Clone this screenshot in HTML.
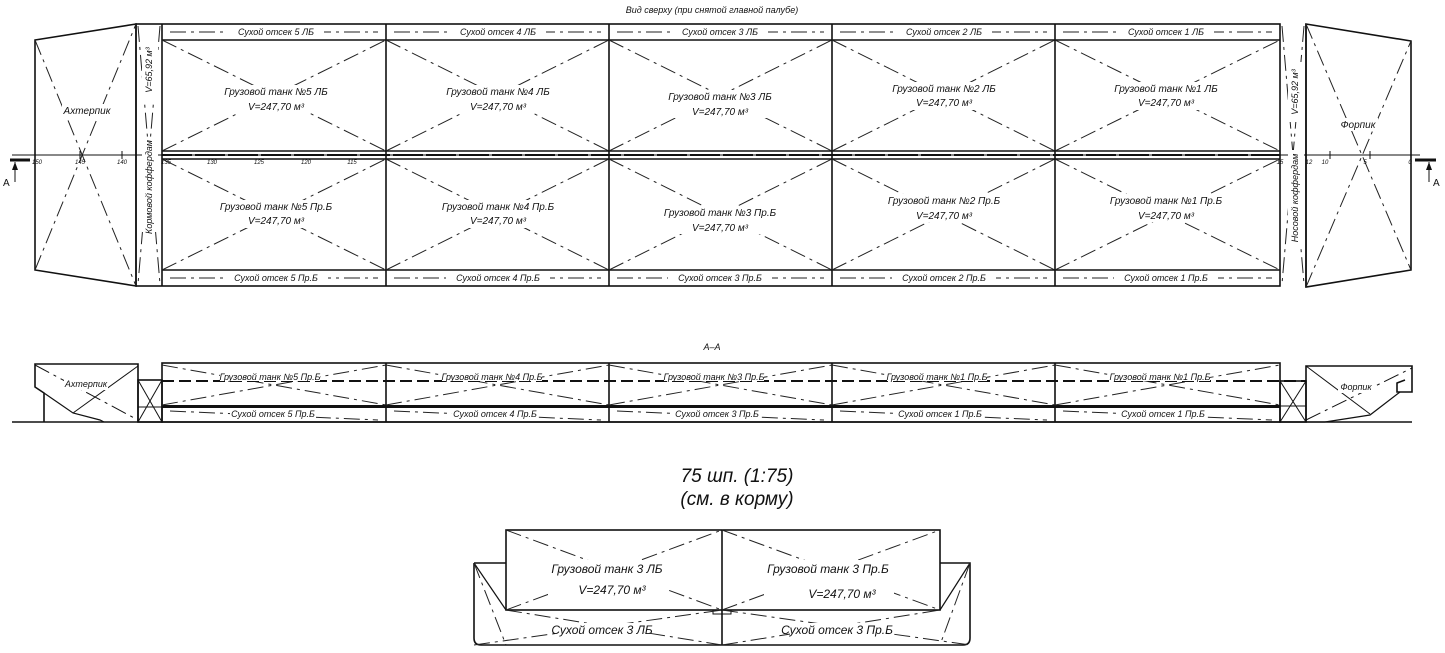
<!DOCTYPE html>
<html><head><meta charset="utf-8"><style>
html,body{margin:0;padding:0;background:#fff;}
svg{display:block}
text{font-family:"Liberation Sans","DejaVu Sans",sans-serif;font-style:italic;fill:#111;}
.t{font-size:10px}
.s{font-size:9px}
.k{stroke:#111;fill:none}
.d{stroke:#222;stroke-width:1;fill:none;stroke-dasharray:16 5 3 5}
.w{fill:#fff}
</style></head><body>
<svg width="1445" height="653" viewBox="0 0 1445 653" xmlns="http://www.w3.org/2000/svg">
<rect width="1445" height="653" fill="#fff"/>
<text x="712" y="13" class="s" text-anchor="middle">Вид сверху (при снятой главной палубе)</text>

<!-- plan view -->
<polygon class="k" stroke-width="1.6" points="35,40 136,24 136,286 35,270"/>
<rect class="k" stroke-width="1.6" x="136" y="24" width="1144" height="262"/>
<polygon class="k" stroke-width="1.6" points="1306,24 1411,41 1411,270 1306,287"/>
<line class="k" stroke-width="1.6" x1="1306" y1="24" x2="1306" y2="287"/>
<g class="k" stroke-width="1.6">
<line x1="162" y1="24" x2="162" y2="286"/><line x1="386" y1="24" x2="386" y2="286"/>
<line x1="609" y1="24" x2="609" y2="286"/><line x1="832" y1="24" x2="832" y2="286"/>
<line x1="1055" y1="24" x2="1055" y2="286"/>
<line x1="162" y1="40" x2="1280" y2="40"/><line x1="162" y1="270" x2="1280" y2="270"/>
<line x1="162" y1="151" x2="1280" y2="151"/><line x1="162" y1="159" x2="1280" y2="159"/>
</g>
<!-- diagonals -->
<g class="d">
<line x1="35" y1="40" x2="136" y2="286"/><line x1="35" y1="270" x2="136" y2="24"/>
<line x1="1306" y1="24" x2="1411" y2="270"/><line x1="1306" y1="287" x2="1411" y2="41"/>
<line x1="138" y1="26" x2="160" y2="284"/><line x1="160" y1="26" x2="138" y2="284"/>
<line x1="1282" y1="26" x2="1304" y2="284"/><line x1="1304" y1="26" x2="1282" y2="284"/>
<line x1="162" y1="40" x2="386" y2="151"/><line x1="162" y1="151" x2="386" y2="40"/>
<line x1="386" y1="40" x2="609" y2="151"/><line x1="386" y1="151" x2="609" y2="40"/>
<line x1="609" y1="40" x2="832" y2="151"/><line x1="609" y1="151" x2="832" y2="40"/>
<line x1="832" y1="40" x2="1055" y2="151"/><line x1="832" y1="151" x2="1055" y2="40"/>
<line x1="1055" y1="40" x2="1280" y2="151"/><line x1="1055" y1="151" x2="1280" y2="40"/>
<line x1="162" y1="159" x2="386" y2="270"/><line x1="162" y1="270" x2="386" y2="159"/>
<line x1="386" y1="159" x2="609" y2="270"/><line x1="386" y1="270" x2="609" y2="159"/>
<line x1="609" y1="159" x2="832" y2="270"/><line x1="609" y1="270" x2="832" y2="159"/>
<line x1="832" y1="159" x2="1055" y2="270"/><line x1="832" y1="270" x2="1055" y2="159"/>
<line x1="1055" y1="159" x2="1280" y2="270"/><line x1="1055" y1="270" x2="1280" y2="159"/>
<line x1="170" y1="32" x2="378" y2="32"/><line x1="394" y1="32" x2="601" y2="32"/><line x1="617" y1="32" x2="824" y2="32"/><line x1="840" y1="32" x2="1047" y2="32"/><line x1="1063" y1="32" x2="1272" y2="32"/>
<line x1="170" y1="278" x2="378" y2="278"/><line x1="394" y1="278" x2="601" y2="278"/><line x1="617" y1="278" x2="824" y2="278"/><line x1="840" y1="278" x2="1047" y2="278"/><line x1="1063" y1="278" x2="1272" y2="278"/>
</g>
<line x1="12" y1="155" x2="1420" y2="155" stroke="#111" stroke-width="1"/>
<line x1="162" y1="155" x2="1280" y2="155" stroke="#111" stroke-width="2" stroke-dasharray="30 3"/>
<g stroke="#111" stroke-width="1">
<line x1="35" y1="151" x2="35" y2="159"/><line x1="80" y1="151" x2="80" y2="159"/><line x1="122" y1="151" x2="122" y2="159"/>
<line x1="1330" y1="151" x2="1330" y2="159"/><line x1="1370" y1="151" x2="1370" y2="159"/><line x1="1411" y1="151" x2="1411" y2="159"/>
</g>
<!-- A arrows -->
<line x1="10" y1="160" x2="30" y2="160" stroke="#111" stroke-width="3"/>
<line x1="15" y1="162" x2="15" y2="182" stroke="#111"/><polygon points="12,170 15,162 18,170" fill="#111"/>
<text x="3" y="186" font-size="10" style="font-style:normal">A</text>
<line x1="1415" y1="160" x2="1436" y2="160" stroke="#111" stroke-width="3"/>
<line x1="1429" y1="162" x2="1429" y2="182" stroke="#111"/><polygon points="1426,170 1429,162 1432,170" fill="#111"/>
<text x="1433" y="186" font-size="10" style="font-style:normal">A</text>

<!-- label backgrounds -->
<g class="w">
<rect x="222" y="85" width="108" height="28"/><rect x="444" y="85" width="108" height="28"/><rect x="666" y="90" width="108" height="28"/><rect x="890" y="82" width="108" height="28"/><rect x="1112" y="82" width="108" height="28"/>
<rect x="218" y="200" width="116" height="28"/><rect x="440" y="200" width="116" height="28"/><rect x="662" y="206" width="116" height="28"/><rect x="886" y="194" width="116" height="28"/><rect x="1108" y="194" width="116" height="28"/>
<rect x="62" y="104" width="50" height="13"/><rect x="1338" y="118" width="40" height="13"/>
</g>
<g class="s" text-anchor="middle">
<rect x="228" y="26" width="96" height="12" fill="#fff"/><text x="276" y="35">Сухой отсек 5 ЛБ</text>
<rect x="450" y="26" width="96" height="12" fill="#fff"/><text x="498" y="35">Сухой отсек 4 ЛБ</text>
<rect x="672" y="26" width="96" height="12" fill="#fff"/><text x="720" y="35">Сухой отсек 3 ЛБ</text>
<rect x="896" y="26" width="96" height="12" fill="#fff"/><text x="944" y="35">Сухой отсек 2 ЛБ</text>
<rect x="1118" y="26" width="96" height="12" fill="#fff"/><text x="1166" y="35">Сухой отсек 1 ЛБ</text>
<rect x="224" y="272" width="104" height="12" fill="#fff"/><text x="276" y="281">Сухой отсек 5 Пр.Б</text>
<rect x="446" y="272" width="104" height="12" fill="#fff"/><text x="498" y="281">Сухой отсек 4 Пр.Б</text>
<rect x="668" y="272" width="104" height="12" fill="#fff"/><text x="720" y="281">Сухой отсек 3 Пр.Б</text>
<rect x="892" y="272" width="104" height="12" fill="#fff"/><text x="944" y="281">Сухой отсек 2 Пр.Б</text>
<rect x="1114" y="272" width="104" height="12" fill="#fff"/><text x="1166" y="281">Сухой отсек 1 Пр.Б</text>
</g>
<g class="t" text-anchor="middle">
<text x="276" y="95">Грузовой танк №5 ЛБ</text><text x="276" y="110">V=247,70 м³</text>
<text x="498" y="95">Грузовой танк №4 ЛБ</text><text x="498" y="110">V=247,70 м³</text>
<text x="720" y="100">Грузовой танк №3 ЛБ</text><text x="720" y="115">V=247,70 м³</text>
<text x="944" y="92">Грузовой танк №2 ЛБ</text><text x="944" y="106">V=247,70 м³</text>
<text x="1166" y="92">Грузовой танк №1 ЛБ</text><text x="1166" y="106">V=247,70 м³</text>
<text x="276" y="210">Грузовой танк №5 Пр.Б</text><text x="276" y="224">V=247,70 м³</text>
<text x="498" y="210">Грузовой танк №4 Пр.Б</text><text x="498" y="224">V=247,70 м³</text>
<text x="720" y="216">Грузовой танк №3 Пр.Б</text><text x="720" y="231">V=247,70 м³</text>
<text x="944" y="204">Грузовой танк №2 Пр.Б</text><text x="944" y="219">V=247,70 м³</text>
<text x="1166" y="204">Грузовой танк №1 Пр.Б</text><text x="1166" y="219">V=247,70 м³</text>
<text x="87" y="114">Ахтерпик</text>
<text x="1358" y="128">Форпик</text>
</g>
<g class="w"><rect x="142" y="142" width="16" height="90"/><rect x="142" y="40" width="16" height="60"/><rect x="1288" y="150" width="16" height="96"/><rect x="1288" y="62" width="16" height="60"/></g>
<g class="s" text-anchor="middle">
<text transform="translate(152,187) rotate(-90)">Кормовой коффердам</text>
<text transform="translate(152,70) rotate(-90)">V=65,92 м³</text>
<text transform="translate(1298,198) rotate(-90)">Носовой коффердам</text>
<text transform="translate(1298,92) rotate(-90)">V=65,92 м³</text>
</g>
<g font-size="6" text-anchor="middle">
<text x="37" y="164">150</text><text x="80" y="164">145</text><text x="122" y="164">140</text><text x="166" y="164">135</text>
<text x="212" y="164">130</text><text x="259" y="164">125</text><text x="306" y="164">120</text><text x="352" y="164">115</text>
<text x="1280" y="164">15</text><text x="1309" y="164">12</text><text x="1325" y="164">10</text><text x="1365" y="164">5</text><text x="1410" y="164">0</text>
</g>

<!-- section A-A -->
<text x="712" y="350" class="s" text-anchor="middle">А–А</text>
<polyline class="k" stroke-width="1.6" points="44,422 44,393 35,387 35,364 138,364 138,422"/>
<polyline class="k" stroke-width="1.2" points="44,393 73,413 100,420 104,422"/>
<rect class="k" stroke-width="1.6" x="138" y="380" width="24" height="42"/>
<line class="k" x1="138" y1="407" x2="162" y2="407"/>
<line class="k" x1="138" y1="380" x2="162" y2="422"/><line class="k" x1="162" y1="380" x2="138" y2="422"/>
<rect class="k" stroke-width="1.6" x="162" y="363" width="1118" height="59"/>
<g class="k" stroke-width="1.6">
<line x1="386" y1="363" x2="386" y2="422"/><line x1="609" y1="363" x2="609" y2="422"/><line x1="832" y1="363" x2="832" y2="422"/><line x1="1055" y1="363" x2="1055" y2="422"/>
</g>
<line x1="162" y1="406.5" x2="1280" y2="406.5" stroke="#111" stroke-width="3"/>
<g class="d">
<line x1="162" y1="365" x2="386" y2="405"/><line x1="162" y1="405" x2="386" y2="365"/>
<line x1="386" y1="365" x2="609" y2="405"/><line x1="386" y1="405" x2="609" y2="365"/>
<line x1="609" y1="365" x2="832" y2="405"/><line x1="609" y1="405" x2="832" y2="365"/>
<line x1="832" y1="365" x2="1055" y2="405"/><line x1="832" y1="405" x2="1055" y2="365"/>
<line x1="1055" y1="365" x2="1280" y2="405"/><line x1="1055" y1="405" x2="1280" y2="365"/>
<line x1="170" y1="411" x2="378" y2="420"/><line x1="394" y1="411" x2="601" y2="420"/><line x1="617" y1="411" x2="824" y2="420"/><line x1="840" y1="411" x2="1047" y2="420"/><line x1="1063" y1="411" x2="1272" y2="420"/>
</g>
<line x1="162" y1="381" x2="1306" y2="381" stroke="#111" stroke-width="2" stroke-dasharray="12 5"/>
<rect class="k" stroke-width="1.6" x="1280" y="381" width="26" height="41"/>
<line class="k" x1="1280" y1="406" x2="1306" y2="406"/>
<line class="k" x1="1280" y1="381" x2="1306" y2="422"/><line class="k" x1="1306" y1="381" x2="1280" y2="422"/>
<polyline class="k" stroke-width="1.6" points="1306,422 1306,366 1412,366 1412,392 1397,392 1397,383 1405,380"/>
<polyline class="k" stroke-width="1.2" points="1306,422 1325,422 1370,415 1400,392"/>
<line class="k" x1="1306" y1="366" x2="1370" y2="414"/><line class="k" x1="1306" y1="420" x2="1412" y2="368" stroke-dasharray="16 5 3 5"/>
<line class="k" x1="35" y1="365" x2="138" y2="420" stroke-dasharray="16 5 3 5"/><line class="k" x1="138" y1="366" x2="73" y2="413"/>
<line x1="12" y1="422" x2="1412" y2="422" stroke="#111" stroke-width="1.4"/>
<g class="s" text-anchor="middle">
<rect x="220" y="370" width="100" height="11" fill="#fff"/><text x="270" y="380">Грузовой танк №5 Пр.Б</text>
<rect x="442" y="370" width="100" height="11" fill="#fff"/><text x="492" y="380">Грузовой танк №4 Пр.Б</text>
<rect x="664" y="370" width="100" height="11" fill="#fff"/><text x="714" y="380">Грузовой танк №3 Пр.Б</text>
<rect x="887" y="370" width="100" height="11" fill="#fff"/><text x="937" y="380">Грузовой танк №1 Пр.Б</text>
<rect x="1110" y="370" width="100" height="11" fill="#fff"/><text x="1160" y="380">Грузовой танк №1 Пр.Б</text>
<rect x="230" y="409" width="86" height="11" fill="#fff"/><text x="273" y="417">Сухой отсек 5 Пр.Б</text>
<rect x="452" y="409" width="86" height="11" fill="#fff"/><text x="495" y="417">Сухой отсек 4 Пр.Б</text>
<rect x="674" y="409" width="86" height="11" fill="#fff"/><text x="717" y="417">Сухой отсек 3 Пр.Б</text>
<rect x="897" y="409" width="86" height="11" fill="#fff"/><text x="940" y="417">Сухой отсек 1 Пр.Б</text>
<rect x="1120" y="409" width="86" height="11" fill="#fff"/><text x="1163" y="417">Сухой отсек 1 Пр.Б</text>
<rect x="64" y="379" width="44" height="11" fill="#fff"/><text x="86" y="387">Ахтерпик</text>
<rect x="1338" y="382" width="36" height="11" fill="#fff"/><text x="1356" y="390">Форпик</text>
</g>

<!-- section 75 -->
<text x="737" y="482" font-size="19" text-anchor="middle">75 шп. (1:75)</text>
<text x="737" y="505" font-size="19" text-anchor="middle">(см. в корму)</text>
<path class="k" stroke-width="1.6" d="M474,563 L474,638 Q474,645 481,645 L963,645 Q970,645 970,638 L970,563 L940,563"/>
<line class="k" stroke-width="1.6" x1="474" y1="563" x2="506" y2="563"/>
<rect class="k" stroke-width="1.6" x="506" y="530" width="434" height="80"/>
<line class="k" stroke-width="1.6" x1="722" y1="530" x2="722" y2="645"/>
<rect class="k" x="713" y="610" width="18" height="4"/>
<line class="k" x1="474" y1="563" x2="506" y2="610" stroke-width="1.2"/>
<line class="k" x1="970" y1="563" x2="940" y2="610" stroke-width="1.2"/>
<g class="d">
<line x1="506" y1="530" x2="722" y2="610"/><line x1="506" y1="610" x2="722" y2="530"/>
<line x1="722" y1="530" x2="940" y2="610"/><line x1="722" y1="610" x2="940" y2="530"/>
<line x1="506" y1="610" x2="722" y2="645"/><line x1="474" y1="645" x2="722" y2="610"/>
<line x1="722" y1="610" x2="970" y2="645"/><line x1="722" y1="645" x2="940" y2="610"/>
<line x1="474" y1="563" x2="506" y2="645"/><line x1="970" y1="563" x2="940" y2="645"/>
</g>
<g class="w"><rect x="548" y="560" width="118" height="40"/><rect x="764" y="560" width="130" height="44"/></g>
<g font-size="12" text-anchor="middle">
<text x="607" y="573">Грузовой танк 3 ЛБ</text><text x="612" y="594">V=247,70 м³</text>
<text x="828" y="573">Грузовой танк 3 Пр.Б</text><text x="842" y="598">V=247,70 м³</text>
<rect x="560" y="623" width="84" height="14" fill="#fff"/><text x="602" y="634">Сухой отсек 3 ЛБ</text>
<rect x="790" y="623" width="94" height="14" fill="#fff"/><text x="837" y="634">Сухой отсек 3 Пр.Б</text>
</g>
</svg>
</body></html>
